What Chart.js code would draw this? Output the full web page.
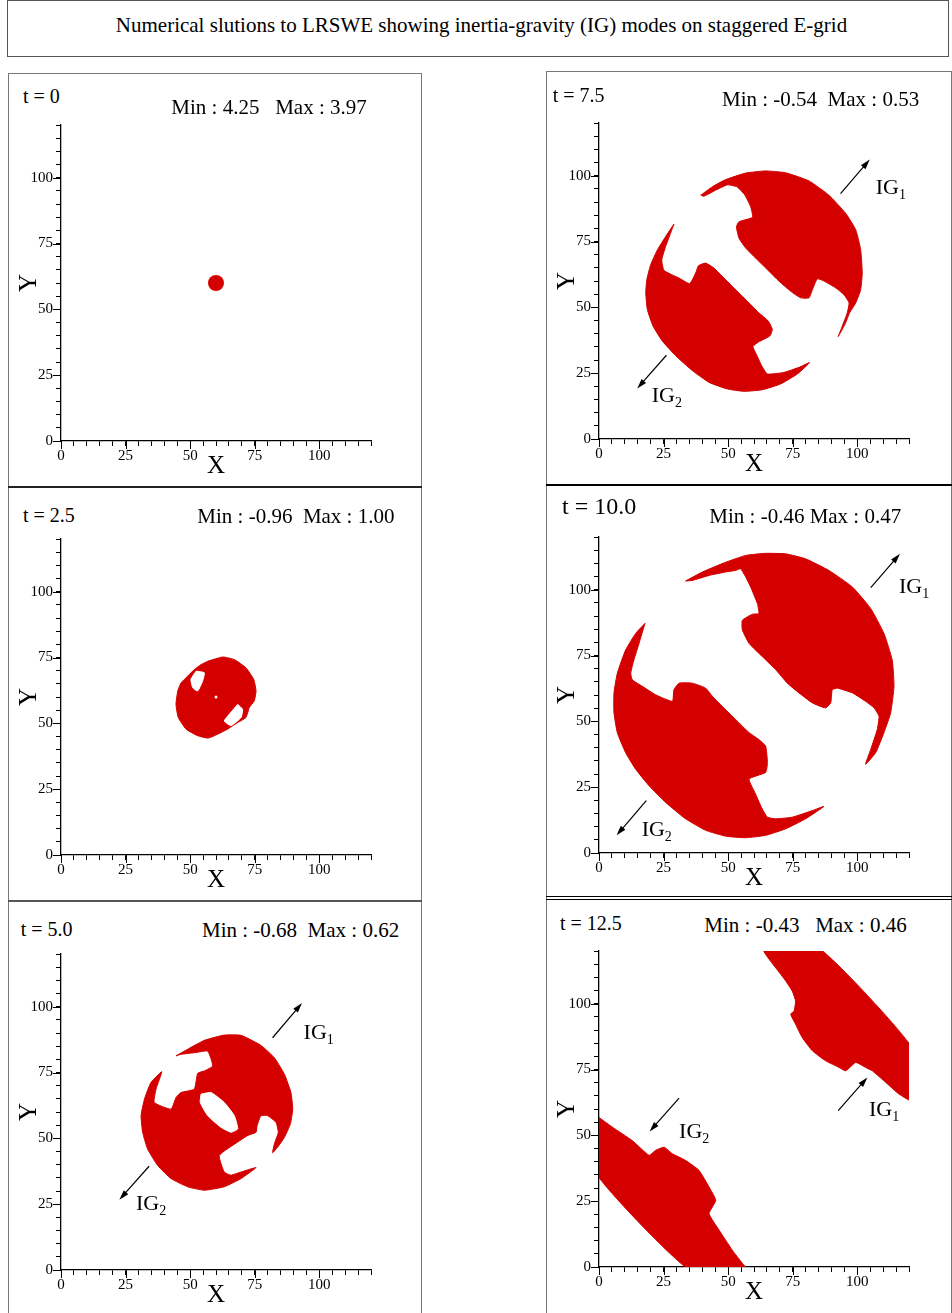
<!DOCTYPE html>
<html>
<head>
<meta charset="utf-8">
<script src="https://cdn.jsdelivr.net/npm/chart.js@4.4.1/dist/chart.umd.min.js"></script>
<style>
  body { margin: 0; background: #fff; width: 952px; height: 1313px; position: relative; overflow: hidden;
         font-family: "Liberation Serif", "Times New Roman", serif; }
  .box { position: absolute; box-sizing: border-box; border: 1.5px solid #777; }
  .hl { position: absolute; height: 2px; background: #222; }
  .txt { position: absolute; white-space: pre; line-height: 1; color: #000; }
  canvas { position: absolute; }
</style>
</head>
<body>
<div class="box" style="left:7px;top:0;width:942px;height:57px;border-color:#555;border-width:1px"></div>
<div class="txt" style="left:0;width:963px;text-align:center;top:15px;font-size:21px">Numerical slutions to LRSWE showing inertia-gravity (IG) modes on staggered E-grid</div>
<div class="box" style="left:8px;top:73px;width:414px;height:1250px"></div>
<div class="hl" style="left:8px;top:486px;width:414px"></div>
<div class="hl" style="left:8px;top:900px;width:414px;background:#555"></div>
<div class="box" style="left:546px;top:71px;width:406px;height:1250px"></div>
<div class="hl" style="left:546px;top:484px;width:406px;background:#000"></div>
<div class="hl" style="left:546px;top:896px;width:406px;height:1px;background:#000"></div>
<div class="hl" style="left:546px;top:899px;width:406px;height:1px;background:#000"></div>

<script>
const RED = "#d40000";
const FONT = '"Liberation Serif", "Times New Roman", serif';
const AXIS_MAX = 120;
const tickLabels = [0, 25, 50, 75, 100];

const times = ["t = 0", "t = 2.5", "t = 5.0", "t = 7.5", "t = 10.0", "t = 12.5"];
const minMax = [
  "Min : 4.25   Max : 3.97",
  "Min : -0.96  Max : 1.00",
  "Min : -0.68  Max : 0.62",
  "Min : -0.54  Max : 0.53",
  "Min : -0.46 Max : 0.47",
  "Min : -0.43   Max : 0.46"
];

// t = 0 : initial height bump
const bump0 = [[60, 60]];

// t = 2.5
const blob25 = [[56.8,73.6],[62.6,75.2],[67.1,74.2],[71.6,71.1],[74.6,66.7],[75.5,62.3],[74.8,58.5],[72.9,56],
  [71.6,52.2],[68.4,50.3],[64.5,47.8],[59.4,45.3],[56.8,44.4],[52.9,45.3],[48.4,47.8],[45.4,52.2],[44.5,57.2],
  [45.2,62.3],[46.5,65.4],[49,67.9],[51.6,70.4],[54.2,72.3]];
const notch25a = [[52.3,69.8],[55.5,69.2],[54.8,66],[52.9,62.3],[51,63.5],[50.3,66.7]];
const notch25b = [[68.4,57.2],[70.3,55.3],[69.7,52.2],[65.8,49.1],[63.2,50.9],[65.2,53.5]];
const hole25 = [[60, 60]];

// t = 5.0
const blob50 = [[44.5,81.3],[49,83.8],[55.5,87.2],[63.2,89.2],[69.7,89.1],[77.4,85.3],[82.6,80.6],[86.5,74.3],
  [89,67.4],[89.7,61.1],[88.8,55.5],[86.5,50.4],[83.9,46.7],[81.9,44.5],[82.6,47.9],[84.1,52.3],[83.2,56.1],
  [80,58.6],[77.4,58.6],[75.9,54.8],[75.5,52.3],[72.3,51.1],[68.4,48.6],[61.3,43.5],[63.2,37.2],[65.8,36],
  [69.7,37.2],[75.5,38.9],[69.7,34.7],[63.2,31.6],[55.5,30.3],[49,31.6],[42.6,34.7],[37.4,39.7],[33.5,46],
  [31.6,52.3],[31,58.6],[32.3,64.9],[34.8,71.2],[39,75.3],[36.8,68.7],[36.1,63.6],[42.6,61.1],[44.5,65.5],
  [46.5,67.4],[51.6,68.7],[52.9,74.7],[55.5,75.6],[58.7,77.5],[56.8,83.1],[51.6,82.5],[46.5,81.9]];
const hole50 = [[54.2,66.8],[58.1,67.4],[63.2,63.6],[67.1,58.6],[68.4,53.6],[65.8,52.3],[61.9,54.2],[56.8,58.6],[53.9,63.6]];

// t = 7.5
const ig1_75 = [[39.4,92.6],[43.9,95.8],[49,98.5],[56.8,101],[64.5,101.8],[72.3,101.1],[81.3,98],[89,92.6],
  [95.5,85.7],[99.4,79.4],[101.3,71.8],[101.9,63],[101.3,56.7],[99.4,51.7],[97,47.9],[95.5,44.2],[93.5,40.4],
  [92.6,38.9],[94.2,42.9],[96.1,47.9],[96.8,51.7],[94.8,54.8],[91.6,57.4],[87.1,60],[84.5,60.8],[82.6,56.7],
  [81.3,53.6],[78.1,53.6],[74.2,56.1],[69.7,59.9],[65.2,64.3],[60.6,68.7],[56.8,72.5],[54.2,76.2],[53.2,80.6],
  [54.2,82.5],[59.4,84.2],[58.7,88.2],[56.5,92.6],[53.5,95.7],[49.7,96.5],[45.2,94.5],[40.6,92.2]];
const ig2_75 = [[29,81.6],[25.8,76.9],[22.6,71.8],[20,66.2],[18.5,60.5],[18.1,55.5],[18.7,49.2],[20.9,42.9],
  [24.5,37.2],[29.7,31.6],[36.1,26],[42.6,21.5],[49.7,19],[56.1,18.1],[63.2,18.7],[70.3,20.9],[76.8,24.7],
  [81.5,29],[77.4,27.2],[71.6,25.3],[65.2,24.7],[63,27.8],[60.9,32.2],[59.6,35.1],[61.9,36.9],[66.1,39.1],
  [67.1,41.6],[65.5,44.8],[61.9,47.9],[58.7,51.1],[55.5,54.2],[51.6,58],[47.7,61.8],[44.5,64.9],[41.3,66.8],
  [38.5,65.8],[37.4,63],[35.1,59],[31,61.1],[25.2,64],[24.3,68],[25.8,73.1],[27.7,78.1]];

// t = 10.0
const ig1_100 = [[33.5,103.3],[40,106.7],[49,110.4],[56.8,113],[64.5,113.8],[72.3,113.6],[80,111.7],[89,107.3],
  [98.1,101],[105.2,92.8],[110.3,83.4],[113.5,73.3],[114.2,63.3],[112.9,53.2],[110.3,45.7],[107.1,38.1],
  [103.2,33.7],[105.2,39.4],[107.7,46.9],[108.4,51.9],[106.5,55.1],[103.2,57.6],[98.1,60.8],[92.3,62.6],
  [90.3,62],[89.7,57],[87.7,55.1],[82.6,57],[77.4,60.8],[72.9,64.5],[68.4,69.6],[63.2,74.6],[58.1,79.6],
  [55.5,84.7],[55.5,88.4],[59.4,90.7],[61.9,90.9],[61.3,94.7],[58.7,101],[56.8,104.8],[54.8,107.9],
  [52.9,107.3],[49,106.7],[42.6,105.4],[36.1,103.5]];
const ig2_100 = [[17.8,87.2],[14.2,83.4],[10.3,77.1],[7.1,68.3],[5.8,60.8],[5.8,53.2],[7.1,45.7],[10.3,38.1],
  [14.2,31.8],[19.4,25.5],[25.8,19.2],[33.5,13],[41.3,8.6],[49,6.4],[56.8,5.8],[64.5,6.7],[72.3,9.2],[80,13],
  [87.1,17.7],[82.6,16.1],[74.8,13.6],[68.4,13],[65.2,13.6],[63.2,16.7],[60.6,22.4],[58.1,28.1],[64.5,30.6],
  [65.2,34.3],[64.5,40.6],[61.9,43.1],[58.1,45.7],[52.9,50.7],[47.7,55.7],[43.9,59.5],[41.3,62.6],[36.1,64.5],
  [31,64.5],[29,62],[28.4,57.6],[21.9,60.1],[16.8,63.3],[12.9,65.8],[12.3,68.3],[13.5,73.3],[15.5,79.6]];

// t = 12.5
const ig1_125 = [[63.2,121],[85.2,121],[121,83.5],[121,63.2],[116.1,65.7],[111,70.1],[105.8,74.5],[103.2,75.8],
  [99.4,77.7],[95.5,74.5],[92.9,75.8],[87.7,78.3],[82.6,82.1],[78.7,87.1],[76.1,92.2],[74.2,96],[75.5,97.2],
  [76.1,101],[74.8,104.8],[72.3,108.6],[68.4,113.6],[64.5,118.7]];
const ig2_125 = [[-1,57.5],[5.2,53.1],[12.9,48],[19.4,42.4],[21.9,44.3],[25.2,45.5],[28.4,43],[33.5,40.5],
  [38.7,36.7],[42.6,30.4],[45.2,25.3],[42.6,20.3],[46.5,14],[51.6,6.4],[55.5,1.4],[57.4,-1],[34.8,-1],[-1,35.4]];

// IG arrows per panel: [x0, y0, x1, y1] and label anchors [x, y, subscript]
const arrows50 = [[81.9,88.2,93.3,101.4],[34.1,39.4,22.6,26.7]];
const labels50 = [[93.9,87.8,"1"],[29,22.8,"2"]];
const arrows75 = [[93.5,93.2,104.8,106.1],[26.1,31.8,14.8,19.2]];
const labels75 = [[107.1,93,"1"],[20.4,14.2,"2"]];
const arrows100 = [[105.2,100.8,116.5,113.6],[18.3,19.9,6.8,6.7]];
const labels100 = [[116.1,98.7,"1"],[16.5,6.4,"2"]];
const arrows125 = [[92.6,59.4,103.9,72],[31,64.1,19.6,51.5]];
const labels125 = [[104.5,57.5,"1"],[31,49,"2"]];

// page placement of each panel: axis origin pixel and text anchors (left, baseline)
const place = [
  { ox: 61,  oy: 441,  t: [23, 103],    m: [171.3, 114.7], tSize: 20 },
  { ox: 61,  oy: 855,  t: [23, 521.3],  m: [197.3, 523.7], tSize: 20 },
  { ox: 61,  oy: 1270, t: [20.7, 936],  m: [202, 937.7],   tSize: 20 },
  { ox: 599, oy: 439,  t: [552.7, 101.3], m: [722, 107],   tSize: 20 },
  { ox: 599, oy: 853,  t: [562, 514.3], m: [709.3, 523.3], tSize: 24 },
  { ox: 599, oy: 1267, t: [560, 929.3], m: [704.3, 932.7], tSize: 20 }
];

const toXY = pts => pts.map(([x, y]) => ({ x, y }));

function poly(pts, color) {
  return {
    data: toXY(pts.concat([pts[0]])),
    borderColor: color, backgroundColor: color, borderWidth: 1,
    pointRadius: 0, fill: "shape", tension: 0.15
  };
}
function dots(pts, color, r) {
  return {
    data: toXY(pts), showLine: false, pointRadius: r,
    pointBackgroundColor: color, pointBorderColor: color, pointBorderWidth: 0
  };
}

// bottom-to-top layers for each panel
const layers = [
  [dots(bump0, RED, 8)],
  [poly(blob25, RED), poly(notch25a, "#fff"), poly(notch25b, "#fff"), dots(hole25, "#fff", 1.5)],
  [poly(blob50, RED), poly(hole50, "#fff")],
  [poly(ig1_75, RED), poly(ig2_75, RED)],
  [poly(ig1_100, RED), poly(ig2_100, RED)],
  [poly(ig1_125, RED), poly(ig2_125, RED)]
];
const annot = [
  null, null,
  { arrows: arrows50, labels: labels50 },
  { arrows: arrows75, labels: labels75 },
  { arrows: arrows100, labels: labels100 },
  { arrows: arrows125, labels: labels125 }
];

const majorTicks = {
  id: "majorTicks",
  afterDraw(chart) {
    const { ctx, chartArea: a, scales: { x, y } } = chart;
    ctx.save();
    ctx.strokeStyle = "#000";
    ctx.lineWidth = 1;
    ctx.beginPath();
    tickLabels.forEach(v => {
      const px = Math.round(x.getPixelForValue(v)) + 0.5;
      ctx.moveTo(px, a.bottom);
      ctx.lineTo(px, a.bottom + 8);
      const py = Math.round(y.getPixelForValue(v)) + 0.5;
      ctx.moveTo(a.left - 8, py);
      ctx.lineTo(a.left, py);
    });
    ctx.stroke();
    ctx.restore();
  }
};

const igMarks = {
  id: "igMarks",
  afterDatasetsDraw(chart, args, opts) {
    if (!opts || !opts.arrows) return;
    const { ctx, scales: { x, y } } = chart;
    ctx.save();
    ctx.strokeStyle = "#000";
    ctx.fillStyle = "#000";
    ctx.lineWidth = 1.2;
    opts.arrows.forEach(([a0, b0, a1, b1]) => {
      const x0 = x.getPixelForValue(a0), y0 = y.getPixelForValue(b0);
      const x1 = x.getPixelForValue(a1), y1 = y.getPixelForValue(b1);
      const ang = Math.atan2(y1 - y0, x1 - x0);
      ctx.beginPath();
      ctx.moveTo(x0, y0);
      ctx.lineTo(x1 - 6 * Math.cos(ang), y1 - 6 * Math.sin(ang));
      ctx.stroke();
      ctx.beginPath();
      ctx.moveTo(x1, y1);
      ctx.lineTo(x1 - 10 * Math.cos(ang) + 3 * Math.sin(ang), y1 - 10 * Math.sin(ang) - 3 * Math.cos(ang));
      ctx.lineTo(x1 - 10 * Math.cos(ang) - 3 * Math.sin(ang), y1 - 10 * Math.sin(ang) + 3 * Math.cos(ang));
      ctx.closePath();
      ctx.fill();
    });
    ctx.textBaseline = "alphabetic";
    ctx.textAlign = "left";
    opts.labels.forEach(([lx, ly, sub]) => {
      const px = x.getPixelForValue(lx), py = y.getPixelForValue(ly);
      ctx.font = "22px " + FONT;
      ctx.fillText("IG", px, py);
      const w = ctx.measureText("IG").width;
      ctx.font = "14px " + FONT;
      ctx.fillText(sub, px + w, py + 5);
    });
    ctx.restore();
  }
};

function axis(title, vertical) {
  return {
    type: "linear", min: 0, max: AXIS_MAX,
    afterFit: s => { if (vertical) s.width = 50; else s.height = 50; },
    border: { display: true, color: "#000", width: 1.3 },
    grid: { drawOnChartArea: false, drawTicks: true, tickLength: 5, color: "#000", lineWidth: 1 },
    ticks: {
      stepSize: 5, autoSkip: false, maxRotation: 0, padding: vertical ? 3 : 1, color: "#000",
      font: { family: FONT, size: 15 },
      callback: v => tickLabels.includes(v) ? String(v) : ""
    },
    title: {
      display: true, text: title, color: "#000", font: { family: FONT, size: 25 },
      padding: vertical ? { top: 3.4, bottom: 0 } : { top: 0, bottom: 10 }
    }
  };
}

place.forEach((p, i) => {
  const cv = document.createElement("canvas");
  cv.width = 400;
  cv.height = 378;
  cv.style.left = (p.ox - 50) + "px";
  cv.style.top = (p.oy - 328) + "px";
  document.body.appendChild(cv);

  [[times[i], p.t, p.tSize], [minMax[i], p.m, 21]].forEach(([s, [lx, by], fs]) => {
    const d = document.createElement("div");
    d.className = "txt";
    d.textContent = s;
    d.style.fontSize = fs + "px";
    d.style.left = lx + "px";
    d.style.top = (by - 0.8375 * fs) + "px";
    document.body.appendChild(d);
  });

  new Chart(cv.getContext("2d"), {
    type: "line",
    data: { datasets: layers[i].slice().reverse() },
    options: {
      responsive: false,
      animation: false,
      devicePixelRatio: 1,
      layout: { padding: { left: 0, right: 40, top: 10, bottom: 0 } },
      scales: { x: axis("X", false), y: axis("Y", true) },
      plugins: {
        legend: { display: false },
        tooltip: { enabled: false },
        igMarks: annot[i] || {}
      }
    },
    plugins: [majorTicks, igMarks]
  });
});
</script>
</body>
</html>
